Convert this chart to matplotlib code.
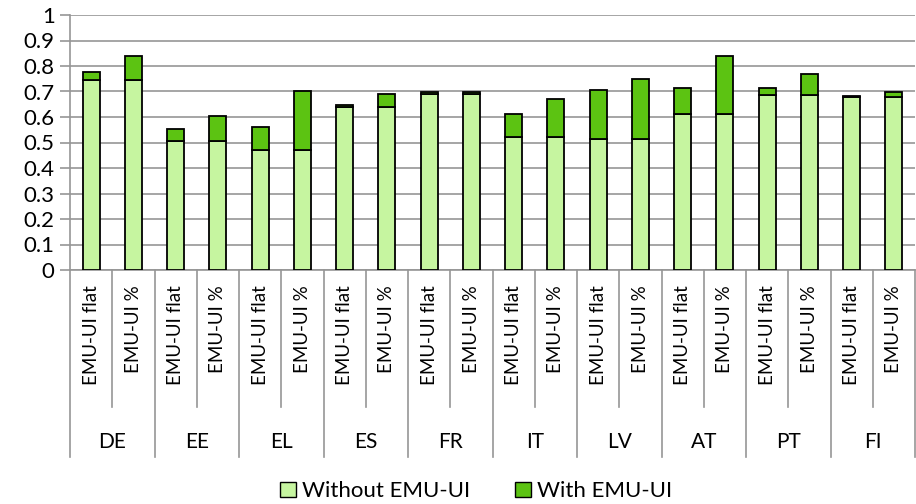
import numpy as np
import matplotlib.pyplot as plt
from matplotlib.patches import Patch

countries = ["DE", "EE", "EL", "ES", "FR", "IT", "LV", "AT", "PT", "FI"]
variants = ["EMU-UI flat", "EMU-UI %"]
# bottom segment (without EMU-UI) and total height (with EMU-UI on top)
without_ui = [0.745, 0.745, 0.507, 0.507, 0.47, 0.47, 0.64, 0.64, 0.69, 0.69,
              0.52, 0.52, 0.515, 0.515, 0.61, 0.61, 0.685, 0.685, 0.677, 0.677]
with_ui_total = [0.775, 0.84, 0.553, 0.605, 0.56, 0.70, 0.648, 0.69, 0.70, 0.70,
                 0.61, 0.67, 0.705, 0.75, 0.715, 0.84, 0.715, 0.77, 0.683, 0.70]

light = "#c6f5a0"
dark = "#5cc312"
grid_c = "#969696"

plt.rcParams["font.family"] = ["Lato", "DejaVu Sans"]

fig = plt.figure(figsize=(9.16, 5.04), dpi=100)
ax = fig.add_axes([70 / 916, (504 - 270) / 504, 845 / 916, 255 / 504])

x = np.arange(len(without_ui))
base = np.array(without_ui)
extra = np.array(with_ui_total) - base
ax.bar(x, base, width=0.4, color=light, edgecolor="black", linewidth=1.3, zorder=3)
ax.bar(x, extra, bottom=base, width=0.4, color=dark, edgecolor="black", linewidth=1.3, zorder=3)

ax.set_xlim(-0.5, len(x) - 0.5)
ax.set_ylim(0, 1)
ax.set_yticks(np.arange(0, 1.01, 0.1))
ax.set_yticklabels(["0"] + [f"{v:.1f}" for v in np.arange(0.1, 0.95, 0.1)] + ["1"], fontsize=16)
ax.yaxis.grid(True, color=grid_c, linewidth=1.2, zorder=0)
ax.tick_params(axis="y", length=7, color=grid_c, width=1.2, pad=4)

for s in ["top", "right"]:
    ax.spines[s].set_visible(False)
for s in ["left", "bottom"]:
    ax.spines[s].set_color(grid_c)
    ax.spines[s].set_linewidth(1.2)

ax.set_xticks([])
tr = ax.get_xaxis_transform()
for i in range(len(x)):
    ax.text(i, -0.06, variants[i % 2], rotation=90, ha="center", va="top",
            fontsize=13.5, transform=tr)
# separators below the axis
for b in range(len(x) + 1):
    low = -0.735 if b % 2 == 0 else -0.537
    ax.plot([b - 0.5, b - 0.5], [0, low], color=grid_c, lw=1.2,
            transform=tr, clip_on=False)
for g, c in enumerate(countries):
    ax.text(2 * g + 0.5, -0.675, c, ha="center", va="center", fontsize=15, transform=tr)

handles = [Patch(facecolor=light, edgecolor="black", label="Without EMU-UI"),
           Patch(facecolor=dark, edgecolor="black", label="With EMU-UI")]
fig.legend(handles=handles, loc="center", bbox_to_anchor=(0.52, 0.025), ncol=2,
           frameon=False, fontsize=16, handlelength=0.7, handleheight=0.7,
           handletextpad=0.3, columnspacing=2.0)

fig.savefig("out.png", dpi=100)
